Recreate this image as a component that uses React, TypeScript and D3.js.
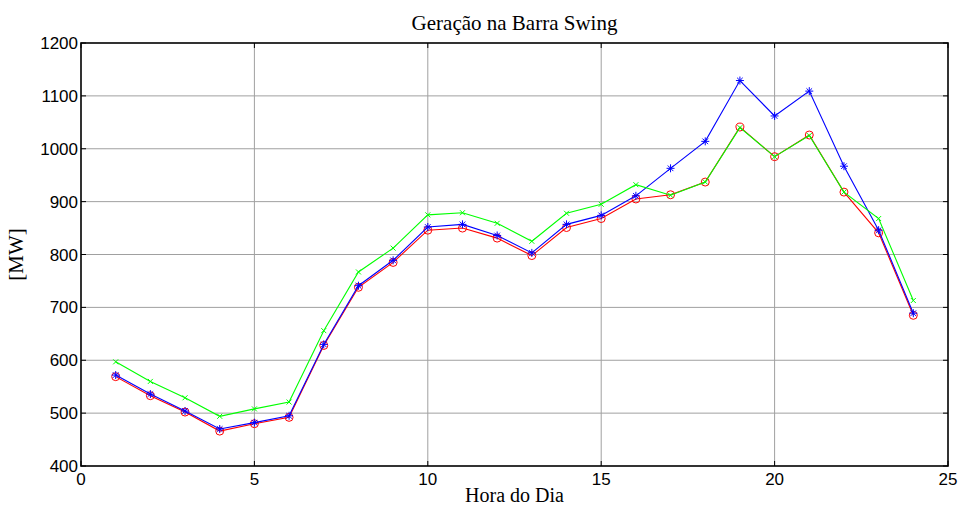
import { line as d3_line, scaleLinear } from "d3";
import type { FC } from "react";

const hours = [1, 2, 3, 4, 5, 6, 7, 8, 9, 10, 11, 12, 13, 14, 15, 16, 17, 18, 19, 20, 21, 22, 23, 24];

const redValues = [569, 533, 502, 466, 480, 492, 628, 738, 785, 846, 850, 831, 798, 851, 868, 905, 913, 937, 1041, 985, 1026, 918, 841, 685];
const blueValues = [572, 536, 504, 470, 482, 495, 630, 741, 789, 852, 857, 836, 803, 857, 874, 911, 963, 1014, 1129, 1062, 1109, 967, 846, 689];
const greenValues = [597, 560, 529, 494, 508, 521, 656, 767, 812, 875, 879, 859, 825, 878, 895, 932, 912, 937, 1040, 985, 1025, 918, 868, 713];

const xTicks = [0, 5, 10, 15, 20, 25];
const yTicks = [400, 500, 600, 700, 800, 900, 1000, 1100, 1200];

const W = 959;
const H = 509;
const left = 81;
const right = 948;
const top = 43;
const bottom = 466;

const xScale = scaleLinear().domain([0, 25]).range([left, right]);
const yScale = scaleLinear().domain([400, 1200]).range([bottom, top]);

type Pt = { h: number; v: number };
const toPts = (vals: number[]): Pt[] => hours.map((h, i) => ({ h, v: vals[i] }));

const pathGen = d3_line<Pt>()
  .x((d) => xScale(d.h))
  .y((d) => yScale(d.v));

const Marker: FC<{ kind: string; x: number; y: number; color: string }> = ({ kind, x, y, color }) => {
  if (kind === "o") {
    return <circle cx={x} cy={y} r={4} fill="none" stroke={color} strokeWidth={1} />;
  }
  if (kind === "x") {
    const s = 2.5;
    return (
      <path
        d={`M${x - s},${y - s}L${x + s},${y + s}M${x - s},${y + s}L${x + s},${y - s}`}
        stroke={color}
        strokeWidth={1}
      />
    );
  }
  // asterisco
  const s = 4;
  const d = 2.8;
  return (
    <path
      d={`M${x - s},${y}L${x + s},${y}M${x},${y - s}L${x},${y + s}M${x - d},${y - d}L${x + d},${y + d}M${x - d},${y + d}L${x + d},${y - d}`}
      stroke={color}
      strokeWidth={1}
    />
  );
};

const series = [
  { name: "red", color: "#ff0000", marker: "o", data: toPts(redValues) },
  { name: "blue", color: "#0000ff", marker: "*", data: toPts(blueValues) },
  { name: "green", color: "#00ff00", marker: "x", data: toPts(greenValues) },
];

const sans = "Liberation Sans, Arial, sans-serif";
const serif = "Liberation Serif, Times New Roman, serif";

export default function App() {
  const tickLen = 5;
  return (
    <svg
      width={W}
      height={H}
      style={{ position: "absolute", left: 0, top: 0, background: "#fff" }}
    >
      <rect x={0} y={0} width={W} height={H} fill="#fff" />
      {/* grade */}
      {xTicks.slice(1, -1).map((t) => (
        <line key={`gx${t}`} x1={xScale(t)} x2={xScale(t)} y1={top} y2={bottom} stroke="#a0a0a0" strokeWidth={1} />
      ))}
      {yTicks.slice(1, -1).map((t) => (
        <line key={`gy${t}`} x1={left} x2={right} y1={yScale(t)} y2={yScale(t)} stroke="#a0a0a0" strokeWidth={1} />
      ))}

      {/* séries */}
      {series.map((s) => (
        <g key={s.name}>
          <path d={pathGen(s.data) ?? ""} fill="none" stroke={s.color} strokeWidth={1.1} />
          {s.data.map((d) => (
            <Marker key={d.h} kind={s.marker} x={xScale(d.h)} y={yScale(d.v)} color={s.color} />
          ))}
        </g>
      ))}

      {/* ticks */}
      {xTicks.map((t) => (
        <g key={`tx${t}`}>
          <line x1={xScale(t)} x2={xScale(t)} y1={bottom} y2={bottom - tickLen} stroke="#000" />
          <line x1={xScale(t)} x2={xScale(t)} y1={top} y2={top + tickLen} stroke="#000" />
          <text x={xScale(t)} y={bottom + 19} textAnchor="middle" fontFamily={sans} fontSize={17}>
            {t}
          </text>
        </g>
      ))}
      {yTicks.map((t) => (
        <g key={`ty${t}`}>
          <line x1={left} x2={left + tickLen} y1={yScale(t)} y2={yScale(t)} stroke="#000" />
          <line x1={right} x2={right - tickLen} y1={yScale(t)} y2={yScale(t)} stroke="#000" />
          <text x={left - 3} y={yScale(t) + 6} textAnchor="end" fontFamily={sans} fontSize={17}>
            {t}
          </text>
        </g>
      ))}

      {/* moldura */}
      <rect
        x={left}
        y={top}
        width={right - left}
        height={bottom - top}
        fill="none"
        stroke="#000"
        strokeWidth={1.6}
      />

      {/* textos */}
      <text x={(left + right) / 2} y={30} textAnchor="middle" fontFamily={serif} fontSize={21}>
        Geração na Barra Swing
      </text>
      <text x={(left + right) / 2} y={502} textAnchor="middle" fontFamily={serif} fontSize={20}>
        Hora do Dia
      </text>
      <text
        transform={`translate(23,${(top + bottom) / 2}) rotate(-90)`}
        textAnchor="middle"
        fontFamily={serif}
        fontSize={21}
      >
        [MW]
      </text>
    </svg>
  );
}
